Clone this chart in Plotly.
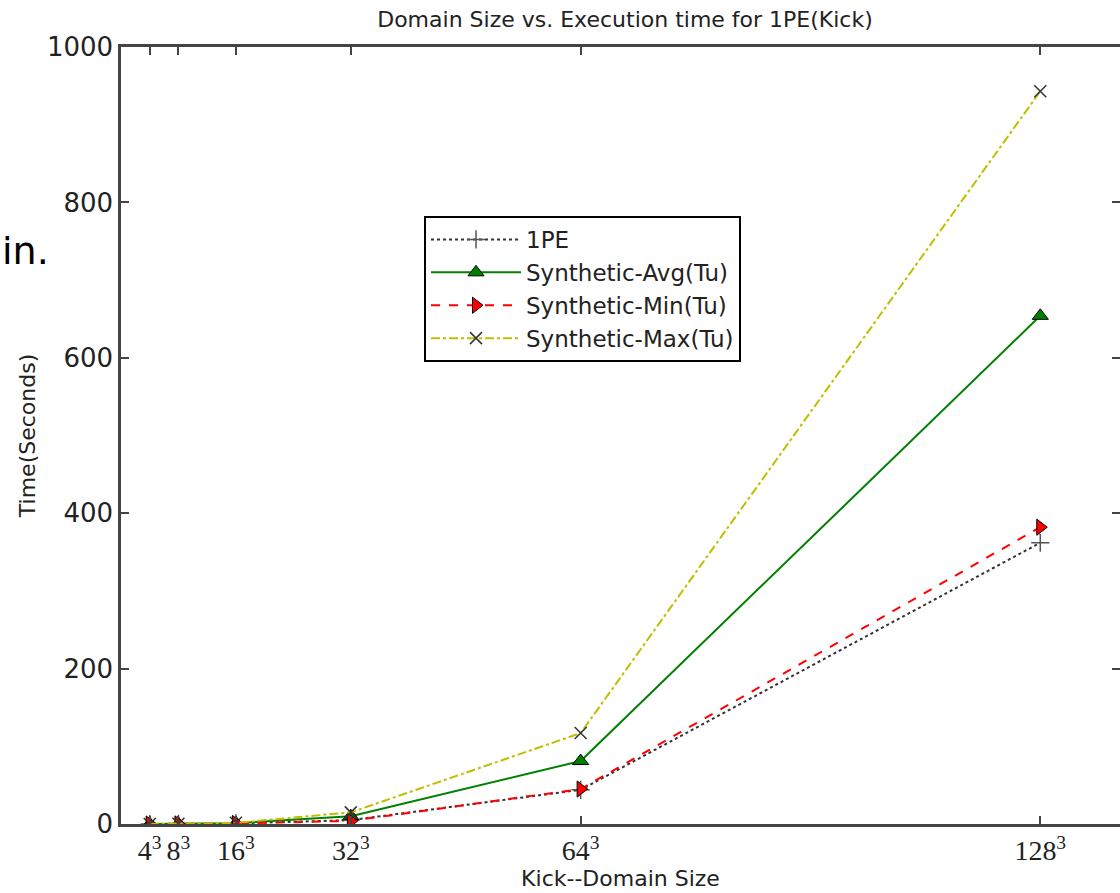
import plotly.graph_objects as go

# Data
domain_sizes = [4, 8, 16, 32, 64, 128]
tick_labels = ["4<sup>3</sup>", "8<sup>3</sup>", "16<sup>3</sup>", "32<sup>3</sup>", "64<sup>3</sup>", "128<sup>3</sup>"]
y_ticks = [0, 200, 400, 600, 800, 1000]
pe1 = [0.01, 0.1, 0.8, 5, 44, 362]
syn_avg = [0.01, 0.1, 1.0, 10, 81, 654]
syn_min = [0.01, 0.1, 0.7, 4, 45, 382]
syn_max = [0.02, 0.2, 1.5, 15, 117, 943]

fig = go.Figure()

fig.add_trace(go.Scatter(
    x=domain_sizes, y=pe1, name="1PE", mode="lines+markers",
    line=dict(color="#333333", width=2, dash="dot"),
    marker=dict(symbol="cross-thin", size=13, line=dict(color="#555555", width=1.5)),
))
fig.add_trace(go.Scatter(
    x=domain_sizes, y=syn_avg, name="Synthetic-Avg(Tu)", mode="lines+markers",
    line=dict(color="#008000", width=2),
    marker=dict(symbol="triangle-up", size=14, color="#008000", line=dict(color="black", width=1)),
))
fig.add_trace(go.Scatter(
    x=domain_sizes, y=syn_min, name="Synthetic-Min(Tu)", mode="lines+markers",
    line=dict(color="#ff0000", width=2, dash="dash"),
    marker=dict(symbol="triangle-right", size=14, color="#ff0000", line=dict(color="black", width=1)),
))
fig.add_trace(go.Scatter(
    x=domain_sizes, y=syn_max, name="Synthetic-Max(Tu)", mode="lines+markers",
    line=dict(color="#bfbf00", width=2, dash="dashdot"),
    marker=dict(symbol="x-thin", size=12, line=dict(color="#333333", width=1.5)),
))
# invisible trace for right-side y ticks
fig.add_trace(go.Scatter(x=[None], y=[None], yaxis="y2", showlegend=False, hoverinfo="skip"))

axis_color = "#444444"
fig.update_layout(
    width=1120, height=893,
    margin=dict(l=121, r=0, t=47, b=69),
    paper_bgcolor="white", plot_bgcolor="white",
    font=dict(family="DejaVu Sans", color="#222222"),
    title=dict(text="Domain Size vs. Execution time for 1PE(Kick)", font=dict(size=22, color="#222222"),
               x=625 / 1120, xanchor="center", xref="container",
               y=1 - 19 / 893, yanchor="middle", yref="container"),
    xaxis=dict(
        range=[0, 139.1], tickmode="array", tickvals=domain_sizes, ticktext=tick_labels,
        tickfont=dict(family="Liberation Serif", size=28, color="#222222"),
        ticks="inside", ticklen=8, tickwidth=1.5, tickcolor=axis_color,
        showline=True, linecolor=axis_color, linewidth=2.5, mirror="ticks",
        showgrid=False, zeroline=False,
        title=dict(text="Kick--Domain Size", font=dict(size=22, color="#222222"), standoff=5),
    ),
    yaxis=dict(
        range=[0, 1000], tickmode="array", tickvals=y_ticks,
        tickfont=dict(size=26, color="#222222"),
        ticks="inside", ticklen=8, tickwidth=1.5, tickcolor=axis_color,
        showline=True, linecolor=axis_color, linewidth=2.5, mirror=False,
        showgrid=False, zeroline=False,
        title=dict(text="Time(Seconds)", font=dict(size=22, color="#222222"), standoff=6),
    ),
    yaxis2=dict(
        range=[0, 1000], overlaying="y", side="right", matches="y",
        tickmode="array", tickvals=y_ticks,
        ticks="inside", ticklen=8, tickwidth=1.5, tickcolor=axis_color,
        showticklabels=False, showline=False, showgrid=False, zeroline=False,
    ),
    legend=dict(
        x=(424 - 121) / 999, y=(893 - 69 - 216) / 777, xanchor="left", yanchor="top",
        bordercolor="black", borderwidth=2, bgcolor="white",
        font=dict(size=23, color="#222222"), tracegroupgap=0, itemwidth=90,
    ),
    showlegend=True,
)

fig.add_annotation(text="in.", xref="paper", yref="paper", x=-121 / 999, y=(893 - 69 - 251) / 777,
                   xanchor="left", yanchor="middle", showarrow=False,
                   font=dict(size=38, color="black", family="DejaVu Sans"))

fig.write_html("out.html")
